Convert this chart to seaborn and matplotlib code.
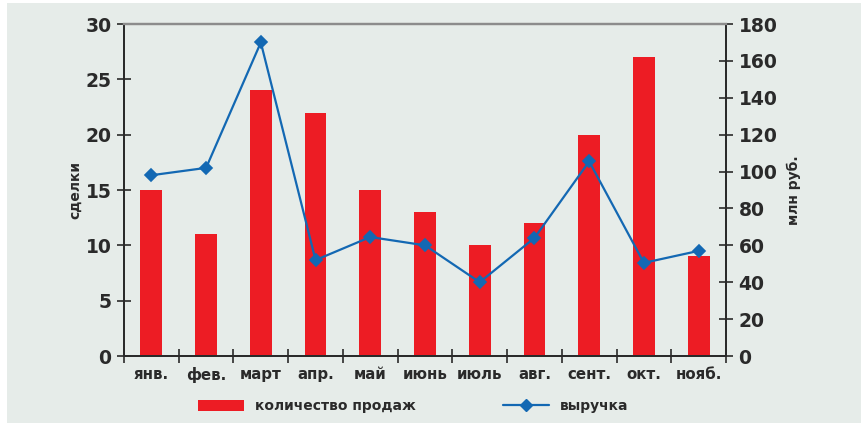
import matplotlib
matplotlib.use("Agg")
import matplotlib.pyplot as plt
import seaborn as sns
import numpy as np
import pandas as pd
from matplotlib.patches import Patch, Rectangle
from matplotlib.lines import Line2D

months = ["янв.", "фев.", "март", "апр.", "май", "июнь", "июль", "авг.", "сент.", "окт.", "нояб."]
sales = [15, 11, 24, 22, 15, 13, 10, 12, 20, 27, 9]
revenue = [98, 102, 170, 52, 64.5, 60, 40, 64, 105.5, 50.5, 57]
left_ticks = [0, 5, 10, 15, 20, 25, 30]
right_ticks = [0, 20, 40, 60, 80, 100, 120, 140, 160, 180]

sns.set_theme(style="white")
plt.rcParams['font.family'] = ['DejaVu Sans']
plt.rcParams['font.weight'] = 'bold'

BG = "#E6ECE9"
RED = "#ED1C24"
BLUE = "#1368B3"
DARK = "#2A2A2A"

df = pd.DataFrame({"month": months, "sales": sales, "revenue": revenue})

fig = plt.figure(figsize=(8.61, 4.23), dpi=100, facecolor="white")
fig.patches.append(Rectangle((7/861, 0), 1 - 7/861, 1 - 3/423, transform=fig.transFigure,
                             facecolor=BG, edgecolor="none", zorder=-10))
ax = fig.add_axes([124/861, (423-356)/423, (726-124)/861, (356-24)/423])
ax.set_facecolor("none")

sns.barplot(data=df, x="month", y="sales", color=RED, width=0.4, saturation=1,
            linewidth=0, ax=ax, zorder=2)
ax.set_ylim(0, 30)
ax.set_yticks(left_ticks)
ax.set_xlim(-0.5, len(months) - 0.5)

ax2 = ax.twinx()
ax2.set_facecolor("none")
sns.pointplot(data=df, x="month", y="revenue", color=BLUE, markers="D", markersize=6,
              linewidth=1.6, ax=ax2)
ax2.set_ylim(0, 180)
ax2.set_yticks(right_ticks)
ax2.set_xlim(-0.5, len(months) - 0.5)

for a in (ax, ax2):
    for s in a.spines.values():
        s.set_visible(True)
        s.set_color(DARK)
        s.set_linewidth(1.3)
    a.spines["top"].set_color("#8C8C8C")
    a.spines["top"].set_linewidth(1.6)

ax.set_xticks(range(len(months)))
ax.set_xticklabels(months, fontsize=10.8, fontweight="bold", color=DARK)
ax.set_xticks(np.arange(-0.5, len(months), 1), minor=True)
ax.tick_params(axis="x", which="major", length=0, pad=8)
ax.tick_params(axis="x", which="minor", direction="inout", length=10, width=1.2, color=DARK, bottom=True)
ax.tick_params(axis="y", direction="inout", length=10, width=1.2, color=DARK, left=True,
               labelsize=13.5, labelcolor=DARK, pad=4)
ax2.tick_params(axis="y", direction="inout", length=10, width=1.2, color=DARK, right=True,
                labelsize=13.5, labelcolor=DARK, pad=4)
for lab in ax.get_yticklabels() + ax2.get_yticklabels():
    lab.set_fontweight("bold")

ax.set_xlabel("")
ax.set_ylabel("сделки", fontsize=10, fontweight="bold", color=DARK, labelpad=2)
ax2.set_ylabel("млн руб.", fontsize=10, fontweight="bold", color=DARK, labelpad=7, rotation=90)

handles = [Patch(facecolor=RED, edgecolor="none"),
           Line2D([0], [0], color=BLUE, lw=1.6, marker="D", markersize=6)]
fig.legend(handles, ["количество продаж", "выручка"], loc="center",
           bbox_to_anchor=(0.480, 0.040), ncol=2, frameon=False,
           prop={"size": 10, "weight": "bold"}, handlelength=3.3, handleheight=0.9,
           handletextpad=0.8, columnspacing=6.3, labelcolor=DARK)

fig.savefig("out.png", dpi=100, facecolor=fig.get_facecolor())
